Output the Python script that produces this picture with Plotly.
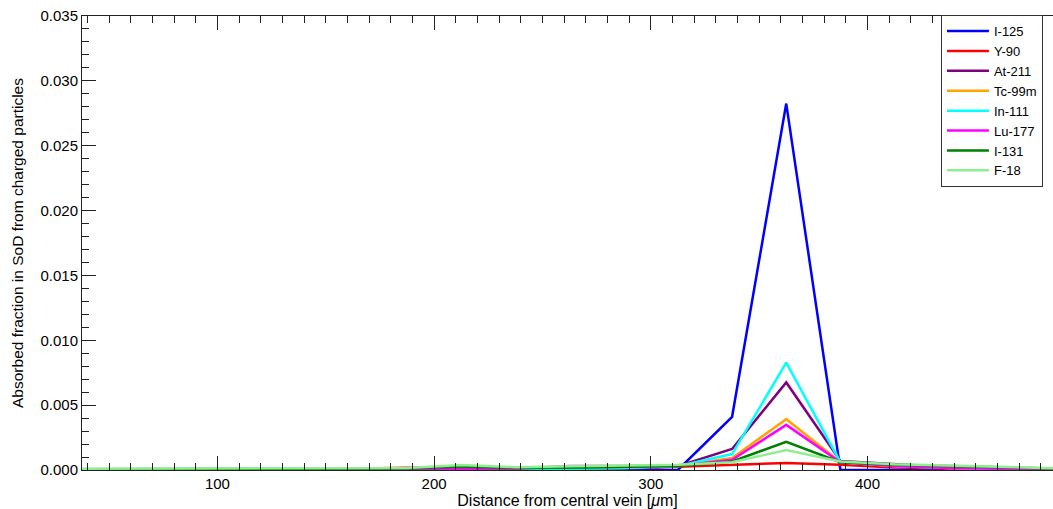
import plotly.graph_objects as go

x = [37.5, 62.5, 87.5, 112.5, 137.5, 162.5, 187.5, 212.5, 237.5, 262.5,
     287.5, 312.5, 337.5, 362.5, 387.5, 412.5, 437.5, 462.5, 487.5]

i125 = [0.00002, 0.00002, 0.00002, 0.00002, 0.00002, 0.00002, 0.00002, 0.00002, 0.00002, 0.00002,
        0.00002, 0.0, 0.0041, 0.02825, 0.0, 0.0, 0.0, 0.0, 0.0]
y90 = [0.00004, 0.00004, 0.00005, 0.00006, 0.00007, 0.00009, 0.00018, 0.0002, 0.00012, 0.0001,
       0.00012, 0.00025, 0.00038, 0.00054, 0.0004, 0.0002, 0.00012, 0.00008, 0.00005]
at211 = [0.00003, 0.00003, 0.00003, 0.00004, 0.00004, 0.00005, 0.00005, 0.00006, 0.00006, 0.00008,
         0.0001, 0.0003, 0.00162, 0.00675, 0.0007, 0.00045, 0.00022, 0.0001, 0.00004]
tc99m = [0.00003, 0.00003, 0.00004, 0.00004, 0.00005, 0.00006, 0.0001, 0.00014, 0.0001, 0.0001,
         0.00015, 0.0003, 0.00092, 0.00392, 0.0006, 0.0003, 0.00015, 0.00008, 0.00004]
in111 = [0.00003, 0.00003, 0.00004, 0.00004, 0.00005, 0.00006, 0.00008, 0.0001, 0.00008, 0.0001,
         0.00015, 0.0003, 0.00123, 0.00828, 0.0006, 0.0003, 0.00015, 0.00008, 0.00004]
lu177 = [0.00003, 0.00003, 0.00004, 0.00004, 0.00005, 0.00006, 0.00008, 0.0001, 0.0001, 0.0003,
         0.0003, 0.0003, 0.00079, 0.00348, 0.0006, 0.0003, 0.00015, 0.00008, 0.00004]
i131 = [0.00006, 0.00007, 0.00008, 0.00009, 0.0001, 0.0001, 0.00012, 0.00025, 0.00015, 0.00018,
        0.00022, 0.0003, 0.00066, 0.00218, 0.0006, 0.0004, 0.0003, 0.0002, 0.0001]
f18 = [0.0001, 0.00011, 0.00012, 0.00013, 0.00013, 0.00014, 0.00016, 0.00038, 0.00022, 0.00028,
       0.00032, 0.0004, 0.0006, 0.00154, 0.00065, 0.00045, 0.00035, 0.00022, 0.00012]

names = ["I-125", "Y-90", "At-211", "Tc-99m", "In-111", "Lu-177", "I-131", "F-18"]
series = [i125, y90, at211, tc99m, in111, lu177, i131, f18]
colors = ["#0000ff", "#ff0000", "#800080", "#ffa500", "#00ffff", "#ff00ff", "#008000", "#90ee90"]

fig = go.Figure()
for n, s, c in zip(names, series, colors):
    fig.add_trace(go.Scatter(x=x, y=s, mode="lines", name=n,
                             line=dict(color=c, width=2.5)))

font = "Liberation Sans, Arial, Helvetica, sans-serif"
fig.update_layout(
    width=1053, height=509,
    margin=dict(l=82, r=0, t=16, b=39),
    paper_bgcolor="white", plot_bgcolor="white",
    font=dict(family=font, size=14, color="black"),
    showlegend=True,
    legend=dict(x=0.8846, y=1.002, xanchor="left", yanchor="top",
                bgcolor="white", bordercolor="#333", borderwidth=1,
                font=dict(family=font, size=13), tracegroupgap=0, itemwidth=42),
    xaxis=dict(range=[37.5, 485.6], showgrid=False, zeroline=False,
               showline=True, linecolor="#222", linewidth=1, mirror="ticks",
               ticks="inside", ticklen=14, tickcolor="#222", dtick=100, tick0=0,
               tickfont=dict(family=font, size=15),
               minor=dict(dtick=10, ticks="inside", ticklen=7, tickcolor="#222"),
               title=dict(text="Distance from central vein [<i>μ</i>m]", standoff=2,
                          font=dict(family=font, size=16))),
    yaxis=dict(range=[0, 0.035], showgrid=False, zeroline=False,
               showline=True, linecolor="#222", linewidth=1,
               ticks="inside", ticklen=14, tickcolor="#222", dtick=0.005, tick0=0,
               tickformat=".3f", tickfont=dict(family=font, size=15),
               minor=dict(dtick=0.001, ticks="inside", ticklen=7, tickcolor="#222"),
               title=dict(text="Absorbed fraction in SoD from charged particles",
                          font=dict(family=font, size=15.5), standoff=13)),
    yaxis2=dict(range=[0, 0.035], overlaying="y", side="right", anchor="x",
                showgrid=False, zeroline=False, showline=False, showticklabels=False,
                ticks="inside", ticklen=6, tickcolor="#222", dtick=0.005, tick0=0),
)
fig.write_html("out.html")
